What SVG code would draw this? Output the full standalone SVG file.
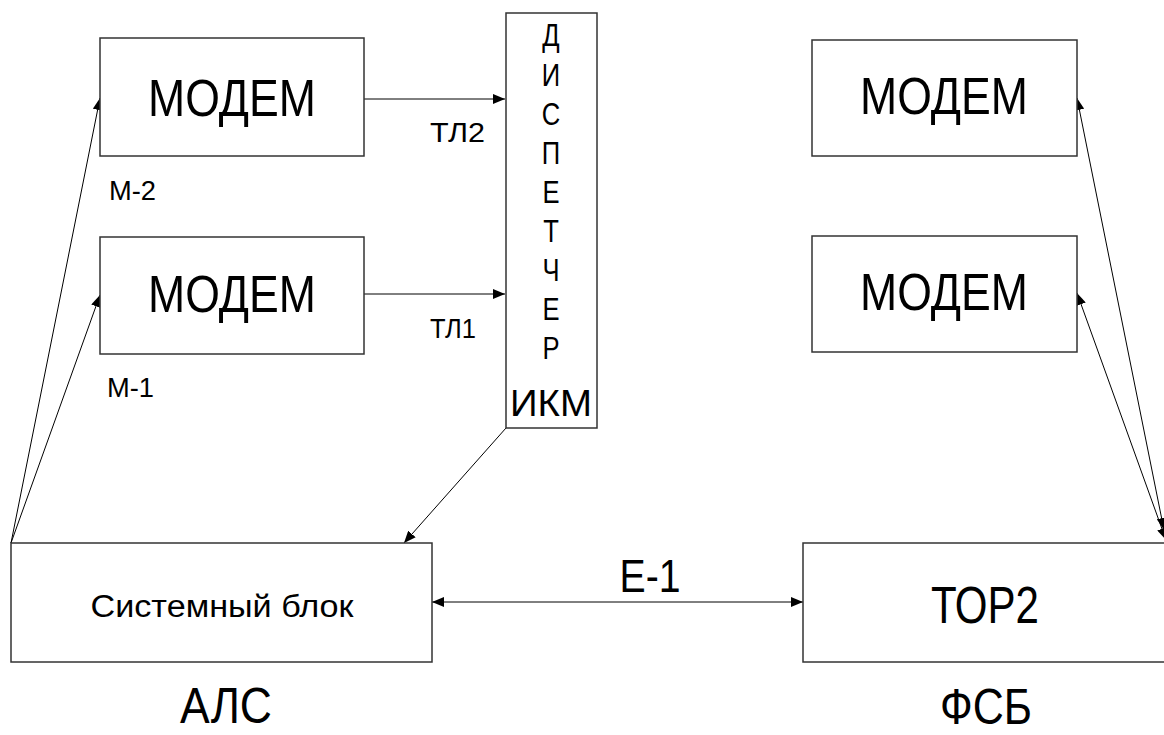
<svg xmlns="http://www.w3.org/2000/svg" width="1164" height="735" viewBox="0 0 1164 735">
<style>
.box{fill:#fff;stroke:#333;stroke-width:1.5}
.ln{stroke:#000;stroke-width:1;fill:none}
text{font-family:"Liberation Sans",Arial,sans-serif;fill:#000}
.big{font-size:52px;text-anchor:middle}
.mid{font-size:32px;text-anchor:middle}
.sm{font-size:27px}
</style>
<defs>
<marker id="ah" viewBox="0 0 12 10" refX="12" refY="5" markerWidth="12" markerHeight="10" markerUnits="userSpaceOnUse" orient="auto-start-reverse">
<path d="M0,0 L12,5 L0,10 z" fill="#000"/>
</marker>
</defs>
<rect width="1164" height="735" fill="#fff"/>
<g id="connectors">
<line class="ln" x1="364" y1="99" x2="505" y2="99" marker-end="url(#ah)"/>
<line class="ln" x1="364" y1="294" x2="505" y2="294" marker-end="url(#ah)"/>
<line class="ln" x1="11" y1="543" x2="100" y2="98" marker-end="url(#ah)"/>
<line class="ln" x1="11" y1="543" x2="100" y2="295" marker-end="url(#ah)"/>
<line class="ln" x1="506" y1="428" x2="404" y2="543" marker-end="url(#ah)"/>
<line class="ln" x1="432" y1="602" x2="803" y2="602" marker-start="url(#ah)" marker-end="url(#ah)"/>
<line class="ln" x1="1077" y1="98" x2="1164" y2="530" marker-start="url(#ah)" marker-end="url(#ah)"/>
<line class="ln" x1="1077" y1="293" x2="1166" y2="540" marker-start="url(#ah)" marker-end="url(#ah)"/>
</g>
<g id="modem2">
<rect class="box" x="100" y="38" width="264" height="118"/>
<text class="big" x="232" y="116" textLength="168" lengthAdjust="spacingAndGlyphs">МОДЕМ</text>
</g>
<g id="modem1">
<rect class="box" x="100" y="237" width="264" height="117"/>
<text class="big" x="232" y="312" textLength="168" lengthAdjust="spacingAndGlyphs">МОДЕМ</text>
</g>
<g id="dispatcher">
<rect class="box" x="506" y="13" width="91" height="415"/>
<g transform="translate(551,0) scale(0.8,1)">
<text class="mid" x="0" y="46">Д</text>
<text class="mid" x="0" y="86">И</text>
<text class="mid" x="0" y="125">С</text>
<text class="mid" x="0" y="164">П</text>
<text class="mid" x="0" y="203">Е</text>
<text class="mid" x="0" y="242">Т</text>
<text class="mid" x="0" y="281">Ч</text>
<text class="mid" x="0" y="320">Е</text>
<text class="mid" x="0" y="359">Р</text>
</g>
<text class="mid" x="551" y="416" style="font-size:37px" textLength="82" lengthAdjust="spacingAndGlyphs">ИКМ</text>
</g>
<g id="rmodem1">
<rect class="box" x="812" y="40" width="265" height="116"/>
<text class="big" x="944" y="114" textLength="168" lengthAdjust="spacingAndGlyphs">МОДЕМ</text>
</g>
<g id="rmodem2">
<rect class="box" x="812" y="236" width="265" height="116"/>
<text class="big" x="944" y="310" textLength="168" lengthAdjust="spacingAndGlyphs">МОДЕМ</text>
</g>
<g id="sysblock">
<rect class="box" x="11" y="543" width="421" height="119"/>
<text class="mid" x="222" y="617" style="font-size:31px" textLength="263" lengthAdjust="spacingAndGlyphs">Системный блок</text>
</g>
<g id="tor2">
<rect class="box" x="803" y="543" width="375" height="119"/>
<text class="big" x="985" y="623" textLength="108" lengthAdjust="spacingAndGlyphs">ТОР2</text>
</g>
<g id="labels">
<text class="sm" x="430" y="142" textLength="55" lengthAdjust="spacingAndGlyphs">ТЛ2</text>
<text class="sm" x="430" y="338" textLength="46" lengthAdjust="spacingAndGlyphs">ТЛ1</text>
<text class="sm" x="109" y="200" textLength="47" lengthAdjust="spacingAndGlyphs">М-2</text>
<text class="sm" x="107" y="397" textLength="47" lengthAdjust="spacingAndGlyphs">М-1</text>
<text class="big" x="650" y="592" style="font-size:46px" textLength="61" lengthAdjust="spacingAndGlyphs">Е-1</text>
<text class="big" x="226" y="723" style="font-size:50px" textLength="92" lengthAdjust="spacingAndGlyphs">АЛС</text>
<text class="big" x="986" y="724" style="font-size:50px" textLength="92" lengthAdjust="spacingAndGlyphs">ФСБ</text>
</g>
</svg>
